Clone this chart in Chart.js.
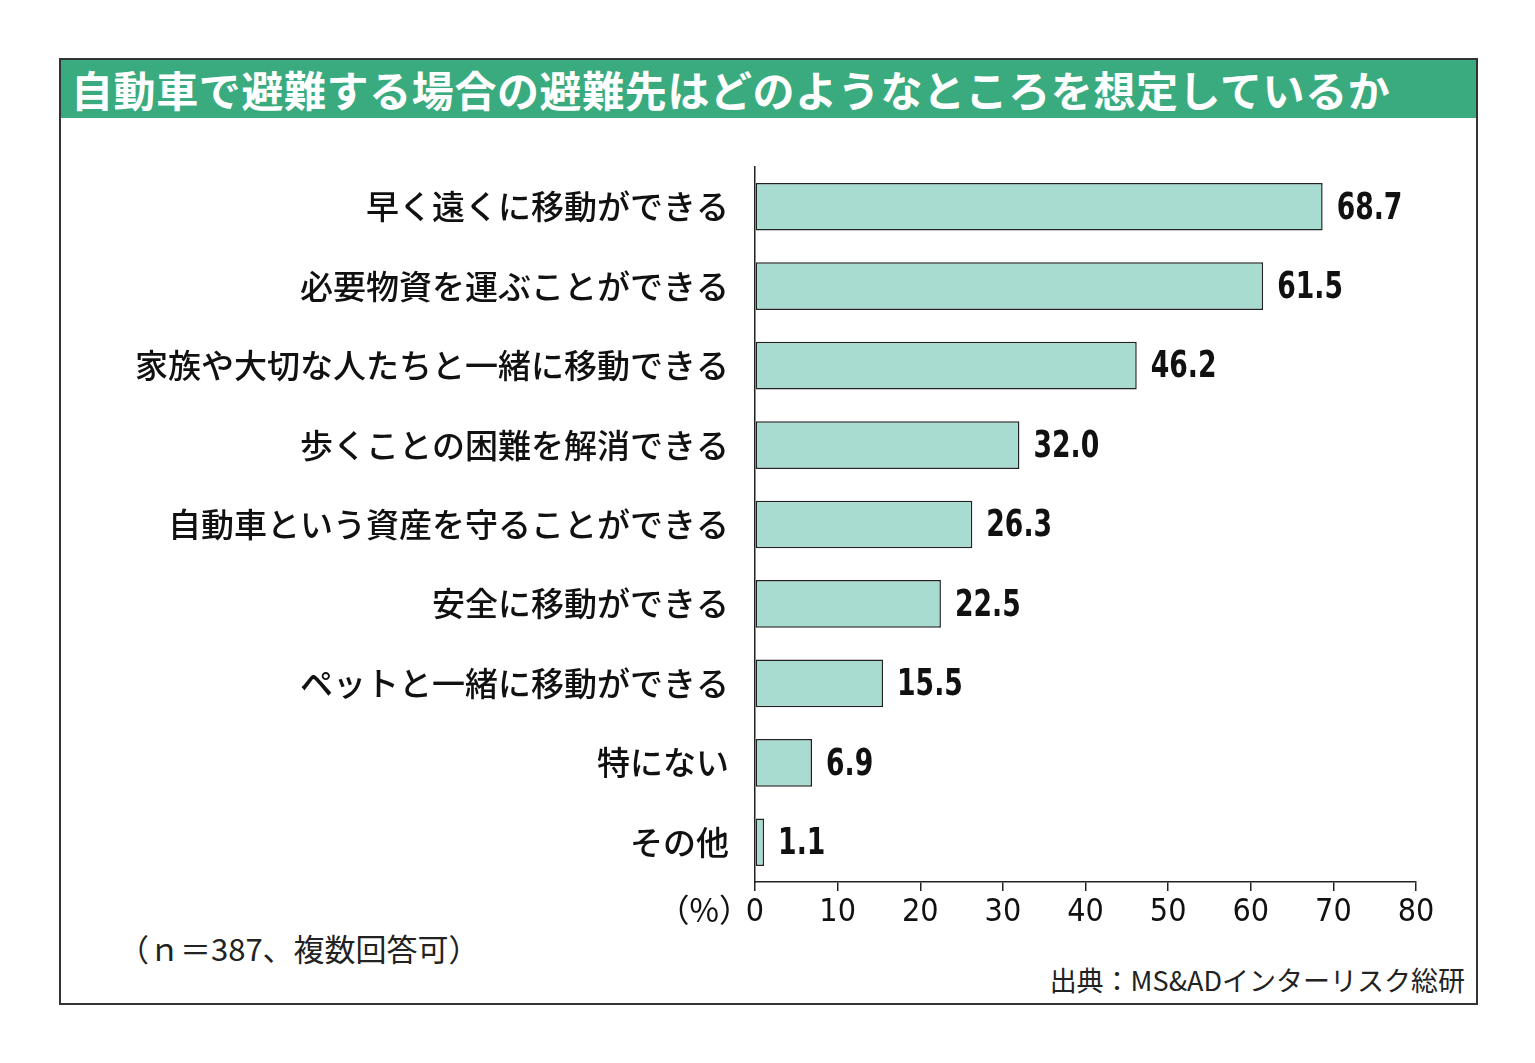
<!DOCTYPE html>
<html><head><meta charset="utf-8">
<script src="https://cdn.jsdelivr.net/npm/chart.js@4"></script>
<style>
body{margin:0;background:#fff;width:1535px;height:1063px;position:relative;overflow:hidden;font-family:"Noto Sans CJK JP",sans-serif}
#frame{position:absolute;left:59px;top:58px;width:1415px;height:943px;border:2px solid #333}
#title{position:absolute;left:61px;top:60px;width:1415px;height:58px;background:#3aab7e;color:#fff;font-size:42px;font-weight:bold;line-height:58px;text-indent:10px;letter-spacing:0.6px;white-space:nowrap}
#n{position:absolute;left:118px;top:925px;font-size:31px;color:#222}
#src{position:absolute;right:70px;top:960px;font-size:27px;color:#222}
canvas{position:absolute;left:0;top:0}
</style></head><body>
<div id="frame"></div>
<div id="title">自動車で避難する場合の避難先はどのようなところを想定しているか</div>
<div id="n">（ｎ＝387、複数回答可）</div>
<div id="src">出典：MS&amp;ADインターリスク総研</div>
<canvas id="c" width="1535" height="1063"></canvas>
<script>
const categories = ["早く遠くに移動ができる","必要物資を運ぶことができる","家族や大切な人たちと一緒に移動できる","歩くことの困難を解消できる","自動車という資産を守ることができる","安全に移動ができる","ペットと一緒に移動ができる","特にない","その他"];
const values = [68.7, 61.5, 46.2, 32.0, 26.3, 22.5, 15.5, 6.9, 1.1];
const ticks = [0, 10, 20, 30, 40, 50, 60, 70, 80];

const narrow = '"Liberation Sans Narrow","DejaVu Sans Condensed",sans-serif';

const valueLabels = {
  id: 'valueLabels',
  afterDatasetsDraw(chart) {
    const ctx = chart.ctx;
    const meta = chart.getDatasetMeta(0);
    ctx.save();
    ctx.font = 'bold 38px ' + narrow;
    ctx.fillStyle = '#111';
    ctx.textBaseline = 'middle';
    meta.data.forEach((bar, i) => {
      ctx.save();
      ctx.translate(bar.x + 14, bar.y + 2);
      ctx.scale(0.78, 1);
      ctx.fillText(values[i].toFixed(1), 0, 0);
      ctx.restore();
    });
    // (%) label
    const xs = chart.scales.x;
    ctx.font = '32px "Noto Sans CJK JP",sans-serif';
    ctx.textAlign = 'right';
    ctx.fillText('（%）', xs.left - 4, xs.top + 28);
    ctx.restore();
  }
};

new Chart(document.getElementById('c'), {
  type: 'bar',
  data: {
    labels: categories,
    datasets: [{
      data: values,
      backgroundColor: '#a9dcd1',
      borderColor: '#222',
      borderWidth: 1.5,
      borderSkipped: false,
      barPercentage: 0.6,
      categoryPercentage: 1
    }]
  },
  options: {
    indexAxis: 'y',
    responsive: false,
    animation: false,
    layout: { padding: { top: 167, right: 119, left: 0, bottom: 0 } },
    plugins: { legend: { display: false }, tooltip: { enabled: false } },
    scales: {
      x: {
        min: 0, max: 80,
        afterBuildTicks(s) { s.ticks = ticks.map(v => ({ value: v })); },
        afterFit(s) { s.height = 1063 - 882; },
        grid: { drawOnChartArea: false, drawTicks: true, tickLength: 9, color: '#222', lineWidth: 1.5 },
        border: { color: '#222', width: 1.5 },
        ticks: { color: '#111', font: { size: 32, family: narrow }, padding: 2 }
      },
      y: {
        afterFit(s) { s.width = 755; },
        grid: { display: false },
        border: { color: '#222', width: 1.5 },
        ticks: { color: '#111', font: { size: 33, weight: '500', family: '"Noto Sans CJK JP",sans-serif' }, padding: 18 }
      }
    }
  },
  plugins: [valueLabels]
});
</script>
</body></html>
